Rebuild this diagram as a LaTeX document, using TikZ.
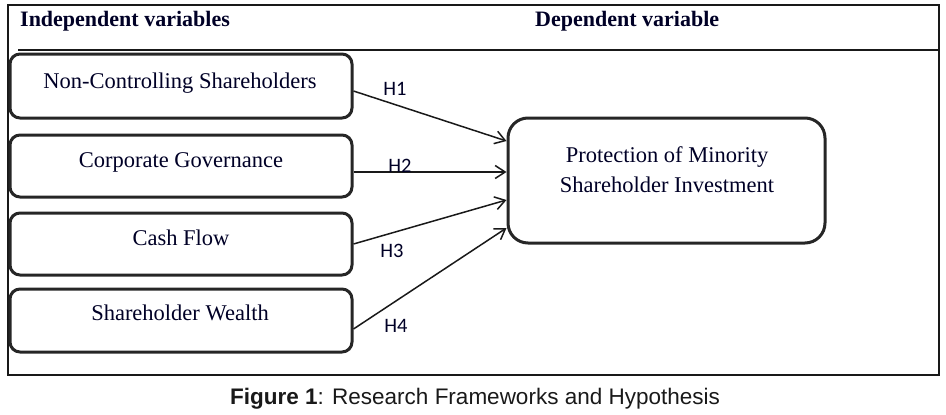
\documentclass[tikz,border=0pt]{standalone}
\usepackage{fontspec}
\setmainfont{Liberation Serif}
\newfontfamily\capfont{Liberation Sans}
\newfontfamily\hfont{Carlito}
\usetikzlibrary{arrows.meta,calc}
\tikzset{
  ivbox/.style={draw=black!85, line width=3pt, rounded corners=10pt, minimum width=342pt, inner sep=0pt},
  dvbox/.style={draw=black!85, line width=3pt, rounded corners=20pt, minimum width=317pt, minimum height=125pt, inner sep=0pt},
  boxtext/.style={anchor=base, inner sep=0pt, font=\fontsize{22.5}{27}\selectfont, text=black!85!blue},
  headtext/.style={anchor=base west, inner sep=0pt, font=\fontsize{22}{26}\selectfont\bfseries, text=black!85!blue},
  hyp/.style={inner sep=0pt, font=\hfont\fontsize{20.5}{24}\selectfont, text=black!85!blue},
  conn/.style={draw=black!90, line width=1.5pt, -{Straight Barb[length=10pt,width=13pt,line width=1.5pt]}}
}
\begin{document}
\begin{tikzpicture}[x=1pt,y=-1pt]
\useasboundingbox (0,0) rectangle (946,415);
% frame
\draw[line width=2pt, black!90] (7.5,5) rectangle (938.5,375);
\coordinate (hl) at (18,50);
\coordinate (hr) at (938.5,50);
\draw[line width=2pt, black!90] (hl) -- (hr);
\node[headtext] (hiv) at (20,27) {Independent variables};
\node[headtext] (hdv) at (535,27) {Dependent variable};
% boxes
\node[ivbox, minimum height=64pt] (b1) at (181,86) {};
\node[ivbox, minimum height=62pt] (b2) at (181,166) {};
\node[ivbox, minimum height=62pt] (b3) at (181,244) {};
\node[ivbox, minimum height=63pt] (b4) at (181,320.5) {};
\node[dvbox] (P) at (666.5,180.5) {};
\node[boxtext] (t1) at (180,88) {Non-Controlling Shareholders};
\node[boxtext] (t2) at (181,167) {Corporate Governance};
\node[boxtext] (t3) at (181,245) {Cash Flow};
\node[boxtext] (t4) at (180,320) {Shareholder Wealth};
\node[boxtext] (p1) at (667,162) {Protection of Minority};
\node[boxtext] (p2) at (667,192) {Shareholder Investment};
% connectors
\draw[conn] ($(b1.east)+(0,5)$) -- ($(P.west)+(0,-39.5)$);
\draw[conn] ($(b2.east)+(0,6)$) -- ($(P.west)+(0,-8.5)$);
\draw[conn] ($(b3.east)+(0,0)$) -- ($(P.west)+(0,19.5)$);
\draw[conn] ($(b4.east)+(0,8.5)$) -- ($(P.west)+(0,47.5)$);
\node[hyp] (h1) at (395,89) {H1};
\node[hyp] (h2) at (400,166) {H2};
\node[hyp] (h3) at (392,251) {H3};
\node[hyp] (h4) at (396,326) {H4};
% caption
\node[anchor=base, inner sep=0pt, font=\capfont\fontsize{22.5}{27}\selectfont, text=black!90] (cap) at (475,404) {\textbf{Figure 1}: Research Frameworks and Hypothesis};
\end{tikzpicture}
\end{document}
